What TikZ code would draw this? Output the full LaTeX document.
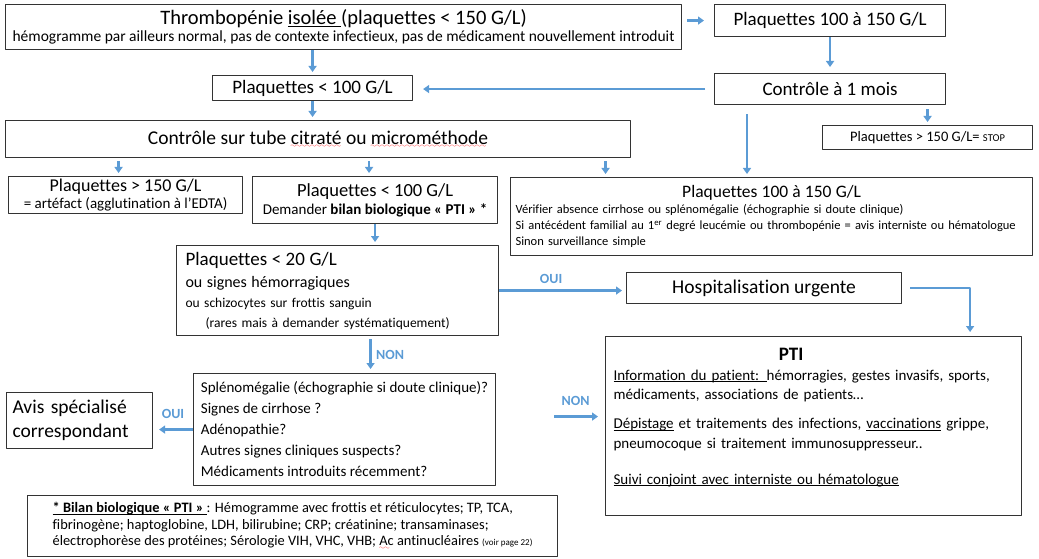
\documentclass[tikz,border=0pt]{standalone}
\usepackage{fontspec}
\setmainfont{Carlito}[Ligatures=NoCommon]
\usetikzlibrary{arrows.meta}
\definecolor{flowblue}{RGB}{91,155,213}
\newcommand\fsz[2]{\fontsize{#1}{#2}\selectfont}
\newsavebox\ulbox
\font\sixly=lasy6
\newcommand\uln[1]{\sbox\ulbox{#1}\leavevmode\rlap{\rule[-0.13em]{\wd\ulbox}{0.06em}}\usebox\ulbox}
\newcommand\redwave[1]{\sbox\ulbox{#1}\leavevmode\rlap{\textcolor{red}{\leaders\hbox{\lower3.5pt\hbox{\sixly\char58}}\hskip\wd\ulbox}}\usebox\ulbox}
\begin{document}
\begin{tikzpicture}[x=1pt,y=-1pt,line join=round,>={Triangle[length=6pt,width=8pt]}]
    \tikzset{box/.style={draw=black!80,line width=1.1pt,anchor=north west,inner sep=0pt},
        arr/.style={->,draw=flowblue,line width=2.4pt},
        yesno/.style={text=flowblue,font=\fsz{14}{14}\bfseries}}
    \useasboundingbox (0,0) rectangle (1039,559);
    % haut du schema
    \node[box,minimum width=676pt,minimum height=45pt,align=center,font=\fsz{15.5}{17.5}] (top) at (5,4)
        {{\fsz{20.5}{20.5}Thrombopénie \uln{isolée }(plaquettes < 150 G/L)}\\hémogramme par ailleurs normal, pas de contexte infectieux, pas de médicament nouvellement introduit};
    \node[box,minimum width=231pt,minimum height=32pt,font=\fsz{19}{19}] (p150a) at (714,4) {Plaquettes 100 à 150 G/L};
    \node[box,minimum width=231pt,minimum height=31pt,font=\fsz{19}{19}] (ctrl) at (714,73) {Contrôle à 1 mois};
    \node[box,minimum width=200pt,minimum height=25pt,font=\fsz{19}{19}] (p100a) at (212,75) {Plaquettes < 100 G/L};
    \node[box,minimum width=625pt,minimum height=37pt,font=\fsz{19.5}{19.5}] (tube) at (5,120)
        {Contrôle sur tube \redwave{citraté} ou \redwave{microméthode}};
    \node[box,minimum width=210pt,minimum height=24pt,font=\fsz{14.5}{14.5}] (stop) at (822,125) {Plaquettes > 150 G/L= {\fsz{10.5}{10.5}STOP}};
    % resultats du controle
    \node[box,minimum width=234pt,minimum height=37pt,align=center,font=\fsz{15}{16.5}] (p150b) at (8,176)
        {{\fsz{18}{18}Plaquettes > 150 G/L}\\= artéfact (agglutination à l’EDTA)};
    \node[box,minimum width=245pt,minimum height=47pt,align=center,font=\fsz{15}{18}] (p100b) at (252,176)
        {{\fsz{18.5}{18.5}Plaquettes < 100 G/L}\\Demander \textbf{bilan biologique « PTI » *}};
    \node[box,minimum width=522pt,minimum height=78pt,text width=512pt,inner xsep=5pt,align=left,font=\fsz{12.5}{16}] (big) at (510,177)
        {\makebox[512pt]{\fsz{17.5}{17.5}Plaquettes 100 à 150 G/L}\\Vérifier absence cirrhose ou splénomégalie (échographie si doute clinique)\\Si antécédent familial au 1\textsuperscript{er} degré leucémie ou thrombopénie = avis interniste ou hématologue\\Sinon surveillance simple};
    \node[box,minimum width=322pt,minimum height=90pt,text width=304pt,inner xsep=9pt,align=left,font=\fsz{13.5}{20}] (p20) at (176,245)
        {{\fsz{19}{19}Plaquettes < 20 G/L}\\[2pt]{\fsz{16}{16}ou signes hémorragiques}\\ou schizocytes sur frottis sanguin\\\hspace*{20pt}(rares mais à demander systématiquement)};
    \node[box,minimum width=275pt,minimum height=31pt,font=\fsz{19.5}{19.5}] (hosp) at (626,272) {Hospitalisation urgente};
    \node[box,minimum width=416pt,minimum height=179pt,text width=400pt,inner xsep=8pt,align=left,font=\fsz{15}{19.5}] (pti) at (605,336)
        {\makebox[355pt]{\fsz{19}{19}\bfseries PTI}\\\uln{Information du patient: }hémorragies, gestes invasifs, sports,\\médicaments, associations de patients…\\[9.5pt]\uln{Dépistage} et traitements des infections, \uln{vaccinations} grippe,\\pneumocoque si traitement immunosuppresseur..\\[16.5pt]\uln{Suivi conjoint avec interniste ou hématologue}\\\mbox{}};
    \node[box,minimum width=302pt,minimum height=112pt,align=left,font=\fsz{15}{21}] (splen) at (193,373)
        {Splénomégalie (échographie si doute clinique)?\\Signes de cirrhose ?\\Adénopathie?\\Autres signes cliniques suspects?\\Médicaments introduits récemment?};
    \node[box,minimum width=146pt,minimum height=56pt,text width=134pt,inner xsep=6pt,align=left,font=\fsz{19.5}{24}] (avis) at (6,392)
        {Avis spécialisé\\correspondant};
    \node[box,minimum width=530pt,minimum height=61pt,align=left,font=\fsz{14.4}{16.5}] (bilan) at (27,495)
        {\textbf{\uln{* Bilan biologique « PTI » }}: Hémogramme avec frottis et réticulocytes; TP, TCA,\\fibrinogène; haptoglobine, LDH, bilirubine; CRP; créatinine; transaminases;\\électrophorèse des protéines; Sérologie VIH, VHC, VHB; \redwave{Ac} antinucléaires {\fsz{9}{9}(voir page 22)}};
    % fleches
    \draw[arr,shorten <=5pt,shorten >=10pt] (top.east |- p150a.west) -- (p150a.west);
    \draw[arr,shorten >=6pt] (p150a) -- (ctrl);
    \draw[arr,shorten <=9pt,shorten >=10pt] (ctrl.west) -- (ctrl.west -| p100a.east);
    \draw[arr,shorten >=3pt] (top.south -| p100a.north) -- (p100a.north);
    \draw[arr,shorten >=3pt] (p100a) -- (p100a.south |- tube.north);
    \foreach \t/\dx in {p150b/-7,p100b/-6,big/-166}
    \draw[arr,shorten <=3pt,shorten >=3pt] ([xshift=\dx pt]\t.north |- tube.south) -- ([xshift=\dx pt]\t.north);
    \draw[arr,shorten <=4pt,shorten >=3pt] (stop.north |- ctrl.south) -- (stop.north);
    \draw[arr,shorten <=9pt,shorten >=3pt] ([xshift=33pt]ctrl.south west) -- ([xshift=33pt]ctrl.south west |- big.north);
    \draw[arr,shorten >=3pt] (p100b) -- (p100b.south |- p20.north);
    \draw[arr,shorten >=4pt] (p20.east) -- (p20.east -| hosp.west) node[yesno,above=2pt,pos=0.41] {OUI};
    \draw[arr,shorten <=8pt,shorten >=4pt] (hosp.east) -| ([xshift=-52pt]pti.north east);
    \draw[arr,shorten <=3pt,shorten >=4pt] ([xshift=33pt]p20.south) -- ([xshift=33pt]p20.south |- splen.north) node[yesno,right=1pt,midway] {NON};
    \draw[arr,shorten >=6pt] (splen.west) -- (splen.west -| avis.east) node[yesno,above=6pt,midway] {OUI};
    \draw[arr,shorten <=58pt,shorten >=7pt] ([yshift=13pt]splen.east) -- ([yshift=13pt]splen.east -| pti.west) node[yesno,above=6pt,pos=0.73] {NON};
\end{tikzpicture}
\end{document}
